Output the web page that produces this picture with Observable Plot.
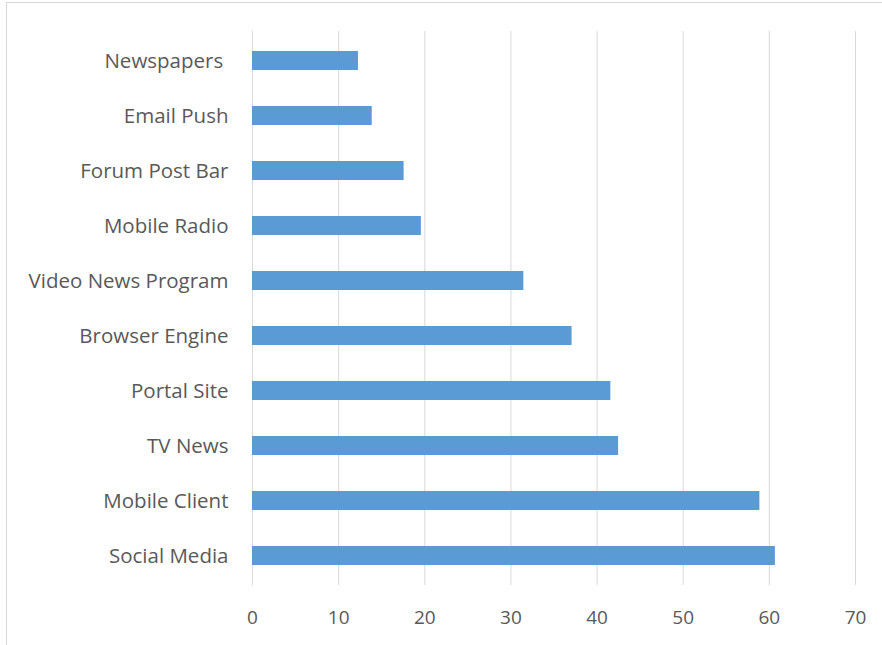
<!DOCTYPE html>
<html><head><meta charset="utf-8">
<script src="https://cdn.jsdelivr.net/npm/d3@7"></script>
<script src="https://cdn.jsdelivr.net/npm/@observablehq/plot@0.6"></script>
<style>
body{margin:0;background:#fff;}
#frame{position:relative;width:882px;height:645px;overflow:hidden;}
#frame::before{content:"";position:absolute;left:6px;top:2px;right:-2px;bottom:-2px;border-top:1px solid #d9d9d9;border-left:1px solid #d9d9d9;pointer-events:none}
#frame svg{position:absolute;left:0;top:0}
#frame svg text{white-space:pre}
</style></head><body><div id="frame"></div>
<script>
const categories = ["Newspapers ","Email Push","Forum Post Bar","Mobile Radio","Video News Program","Browser Engine","Portal Site","TV News","Mobile Client","Social Media"];
const values = [12.3, 13.9, 17.6, 19.6, 31.5, 37.1, 41.6, 42.5, 58.9, 60.7];
const xTicks = [0,10,20,30,40,50,60,70];
const data = categories.map((c,i)=>({category:c, value:values[i]}));
const chart = Plot.plot({
  width:882, height:645,
  marginLeft:252, marginRight:27, marginTop:31, marginBottom:60,
  style:{fontFamily:"'Open Sans', sans-serif", color:"#595959", background:"transparent"},
  x:{domain:[0,70]},
  y:{domain:categories, paddingInner:0.65, paddingOuter:0.325},
  marks:[
    Plot.gridX(xTicks,{stroke:"#d9d9d9", strokeOpacity:1}),
    Plot.barX(data,{y:"category", x:"value", fill:"#5b9bd5"}),
    Plot.axisY({tickSize:0, tickPadding:24, fontSize:20.5, label:null}),
    Plot.axisX(xTicks,{tickSize:0, tickPadding:25, fontSize:19, label:null})
  ]
});
document.getElementById("frame").appendChild(chart);
</script></body></html>
